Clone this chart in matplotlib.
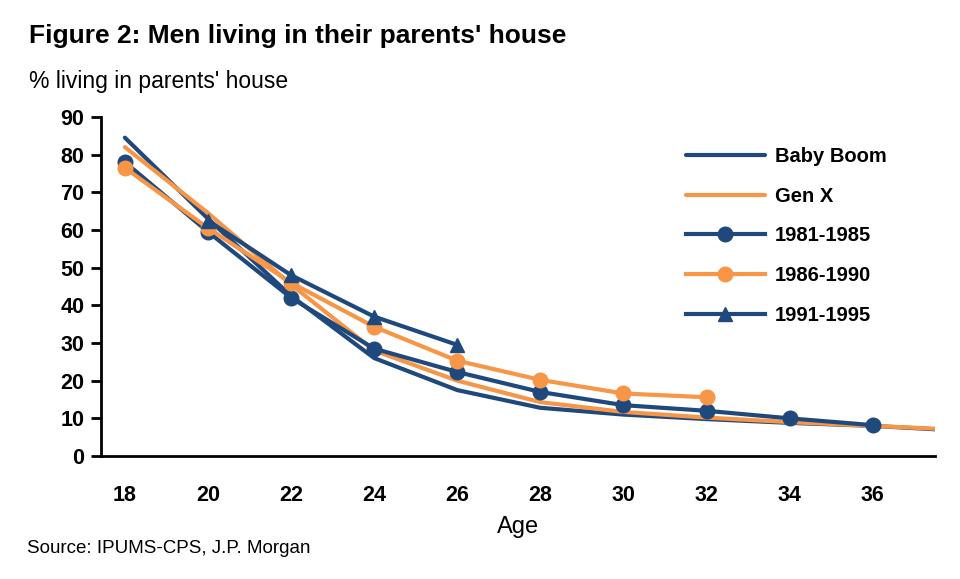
import matplotlib
matplotlib.use("Agg")
import matplotlib.pyplot as plt
from matplotlib import font_manager

names = {f.name for f in font_manager.fontManager.ttflist}
NARROW = 'Liberation Sans Narrow' if 'Liberation Sans Narrow' in names else 'Liberation Sans'
plt.rcParams['font.family'] = [NARROW, 'DejaVu Sans']

NAVY = '#1F497D'
ORANGE = '#F79646'

ages_gen = [18, 20, 22, 24, 26, 28, 30, 32, 34, 36, 38]
baby_boom = [84.5, 63, 42.5, 26, 17.5, 12.8, 11, 9.8, 8.8, 8.0, 6.8]
gen_x = [82, 64.5, 45.5, 28, 20, 14.3, 11.7, 10.2, 9.0, 8.0, 7.0]

ages_8185 = [18, 20, 22, 24, 26, 28, 30, 32, 34, 36]
c_8185 = [78, 59.5, 42, 28.5, 22.3, 17, 13.5, 12, 10, 8.2]

ages_8690 = [18, 20, 22, 24, 26, 28, 30, 32]
c_8690 = [76.5, 60.5, 46, 34.3, 25.3, 20.2, 16.6, 15.6]

ages_9195 = [20, 22, 24, 26]
c_9195 = [62.5, 48, 37, 29.5]

xticks = [18, 20, 22, 24, 26, 28, 30, 32, 34, 36]
yticks = [0, 10, 20, 30, 40, 50, 60, 70, 80, 90]

fig = plt.figure(figsize=(9.6, 5.79), dpi=100)
ax = fig.add_axes([0.105, 0.2124, 0.869, 0.5856])

lw = 3.0
ax.plot(ages_gen, baby_boom, color=NAVY, lw=lw, label='Baby Boom', solid_capstyle='round')
ax.plot(ages_gen, gen_x, color=ORANGE, lw=lw, label='Gen X', solid_capstyle='round')
ax.plot(ages_8185, c_8185, color=NAVY, lw=lw, marker='o', ms=10.5, label='1981-1985')
ax.plot(ages_8690, c_8690, color=ORANGE, lw=lw, marker='o', ms=10.5, label='1986-1990')
ax.plot(ages_9195, c_9195, color=NAVY, lw=lw, marker='^', ms=10.5, label='1991-1995')

ax.set_xlim(17.42, 37.5)
ax.set_ylim(0, 90)
ax.set_xticks(xticks)
ax.set_yticks(yticks)
ax.tick_params(axis='x', length=0, pad=21, labelsize=15.5)
ax.tick_params(axis='y', length=7, width=2, pad=5, labelsize=15.5, direction='out')
for lab in ax.get_xticklabels() + ax.get_yticklabels():
    lab.set_fontweight('bold')
for s in ['top', 'right']:
    ax.spines[s].set_visible(False)
for s in ['left', 'bottom']:
    ax.spines[s].set_linewidth(2)
    ax.spines[s].set_color('black')

ax.set_xlabel('Age', fontsize=17, labelpad=7)

leg = ax.legend(loc='upper left', bbox_to_anchor=(0.68, 0.965), frameon=False,
                handlelength=3.9, labelspacing=1.03, handletextpad=0.5,
                prop={'weight': 'bold', 'size': 14.5})

fig.text(0.03, 0.937, "Figure 2: Men living in their parents' house", fontsize=19,
         fontweight='bold', va='center', ha='left')
fig.text(0.03, 0.86, "% living in parents' house", fontsize=16.5, va='center', ha='left')
fig.text(0.028, 0.053, "Source: IPUMS-CPS, J.P. Morgan", fontsize=13.5, va='center', ha='left')

fig.savefig('out.png', dpi=100)
